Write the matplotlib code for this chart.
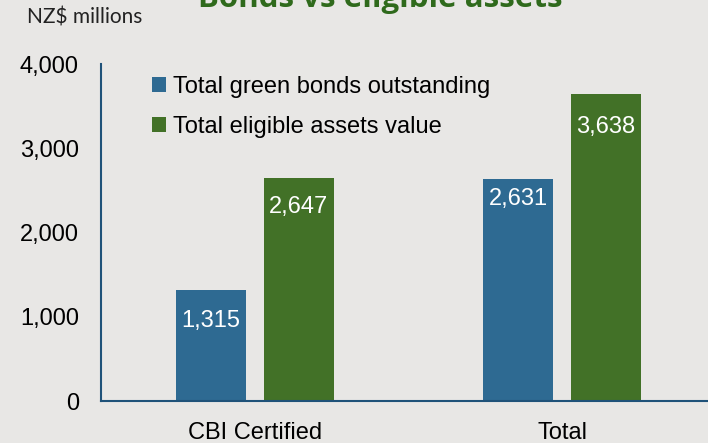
import matplotlib
matplotlib.use("Agg")
import matplotlib.pyplot as plt
import numpy as np

categories = ["CBI Certified", "Total"]
series_names = ["Total green bonds outstanding", "Total eligible assets value"]
green_bonds = [1315, 2631]
eligible_assets = [2647, 3638]
yticks = [0, 1000, 2000, 3000, 4000]
label_offsets = [[-362, -230], [-341, -382]]  # label position below bar top

bg = "#e8e7e5"
blue = "#2e6a92"
green = "#427127"
spine_c = "#1f5279"

plt.rcParams['font.family'] = ['Liberation Sans', 'DejaVu Sans']
fig = plt.figure(figsize=(7.08, 4.43), dpi=100, facecolor=bg)
ax = fig.add_axes([101/708, 1-401/443, 1-101/708, (401-64)/443])
ax.set_facecolor(bg)

x = np.arange(len(categories))
w = 0.228
off = 0.143
series = [green_bonds, eligible_assets]
colors = [blue, green]
for i, (vals, c, name) in enumerate(zip(series, colors, series_names)):
    pos = x + (-off if i == 0 else off)
    ax.bar(pos, vals, width=w, color=c, label=name, zorder=2)
    for p, v, o in zip(pos, vals, label_offsets[i]):
        ax.text(p, v + o, f"{v:,}", color="white", ha="center", va="center", fontsize=17, zorder=3)

ax.set_xlim(-0.5, 1.475)
ax.set_ylim(0, 4000)
ax.set_yticks(yticks)
ax.set_yticklabels([f"{t:,}" for t in yticks], fontsize=17)
ax.set_xticks(x)
ax.set_xticklabels(categories, fontsize=17)
ax.tick_params(length=0)
ax.tick_params(axis='y', pad=16)
ax.tick_params(axis='x', pad=15)
for s in ["top", "right"]:
    ax.spines[s].set_visible(False)
for s in ["left", "bottom"]:
    ax.spines[s].set_color(spine_c)
    ax.spines[s].set_linewidth(1.5)

leg = ax.legend(loc="upper left", bbox_to_anchor=(0.084, 0.965), frameon=False, fontsize=17,
                borderaxespad=0, borderpad=0,
                handlelength=0.6, handleheight=0.6, handletextpad=0.3, labelspacing=0.75)

fig.text(27/708, 1-18/443, "NZ$ millions", fontsize=15, family=['Lato', 'DejaVu Sans'],
         va="center", ha="left", color="#222222")
fig.text(380/708, 1-7/443, "Bonds vs eligible assets", fontsize=22.5, fontweight="bold",
         family=['Open Sans', 'DejaVu Sans'], color="#2f6a1c", ha="center", va="baseline")

fig.savefig("out.png", dpi=100, facecolor=bg)
